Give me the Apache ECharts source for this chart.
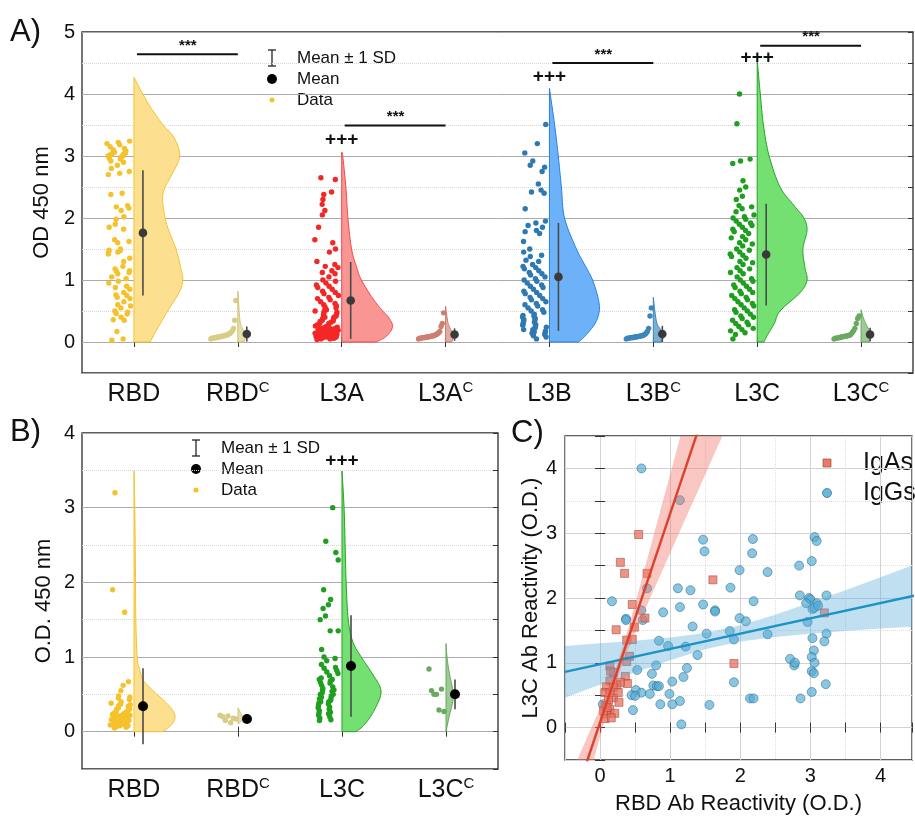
<!DOCTYPE html>
<html>
<head>
<meta charset="utf-8">
<script src="https://cdn.jsdelivr.net/npm/echarts@6.0.0/dist/echarts.min.js"></script>
<style>
  html, body { margin: 0; padding: 0; background: #fff; }
  #chart { width: 915px; height: 816px; }
</style>
</head>
<body>
<div id="chart"></div>
<script>
  var FONT = "'Liberation Sans', Arial, Helvetica, sans-serif";

  /** Panel A data */
  var aCategories = ['RBD', 'RBDc', 'L3A', 'L3Ac', 'L3B', 'L3Bc', 'L3C', 'L3Cc'];
  var aMeans = [1.76, 0.13, 0.67, 0.12, 1.05, 0.13, 1.41, 0.12];
  var aSD = [1.01, 0.12, 0.62, 0.10, 0.87, 0.13, 0.82, 0.11];

  var aRBD = [3.24, 3.22, 3.2, 3.18, 3.15, 3.12, 3.1, 3.08, 3.06, 3.05, 3.04, 3.03, 3.02, 3.0, 3.0, 2.98, 2.96,
    2.95, 2.92, 2.9, 2.85, 2.8, 2.75, 2.72, 2.7, 2.4, 2.38, 2.2, 2.18, 2.16, 2.12, 2.02, 1.98, 1.9, 1.85, 1.82,
    1.65, 1.62, 1.6, 1.5, 1.48, 1.47, 1.45, 1.45, 1.42, 1.35, 1.3, 1.22, 1.18, 1.15, 1.14, 1.12, 1.1, 1.05, 1.02,
    0.98, 0.95, 0.9, 0.88, 0.85, 0.8, 0.76, 0.75, 0.72, 0.7, 0.65, 0.6, 0.58, 0.55, 0.5, 0.48, 0.46, 0.45, 0.4,
    0.36, 0.35, 0.17, 0.05, 0.03];
  var aRBDc = [0.05, 0.06, 0.06, 0.07, 0.07, 0.07, 0.08, 0.08, 0.08, 0.09, 0.09, 0.1, 0.1, 0.11, 0.11, 0.12,
    0.13, 0.14, 0.16, 0.18, 0.22, 0.35, 0.67];
  var aL3A = [2.65, 2.62, 2.42, 2.38, 2.3, 2.22, 2.12, 2.05, 1.85, 1.65, 1.6, 1.5, 1.45, 1.3, 1.25, 1.22, 1.2,
    1.15, 1.12, 1.1, 1.05, 1.0, 0.98, 0.95, 0.92, 0.9, 0.88, 0.85, 0.82, 0.8, 0.78, 0.75, 0.72, 0.7, 0.68, 0.65,
    0.62, 0.6, 0.58, 0.56, 0.55, 0.52, 0.5, 0.5, 0.48, 0.47, 0.45, 0.44, 0.42, 0.4, 0.4, 0.38, 0.37, 0.35, 0.34,
    0.33, 0.32, 0.3, 0.3, 0.28, 0.27, 0.26, 0.25, 0.24, 0.23, 0.22, 0.22, 0.21, 0.2, 0.2, 0.19, 0.18, 0.18, 0.17,
    0.16, 0.15, 0.15, 0.14, 0.13, 0.12, 0.12, 0.11, 0.1, 0.1, 0.09, 0.08, 0.08, 0.07, 0.06, 0.05, 0.05, 0.04];
  var aL3Ac = [0.05, 0.06, 0.06, 0.07, 0.07, 0.07, 0.08, 0.08, 0.08, 0.09, 0.09, 0.1, 0.1, 0.11, 0.12, 0.13,
    0.15, 0.17, 0.25, 0.3, 0.47];
  var aL3B = [3.51, 3.2, 3.05, 2.92, 2.85, 2.82, 2.75, 2.55, 2.45, 2.42, 2.4, 2.15, 1.95, 1.92, 1.88, 1.85, 1.8,
    1.78, 1.75, 1.62, 1.5, 1.45, 1.4, 1.38, 1.32, 1.3, 1.25, 1.22, 1.2, 1.18, 1.15, 1.12, 1.1, 1.08, 1.05, 1.02,
    1.0, 0.98, 0.95, 0.92, 0.9, 0.88, 0.85, 0.82, 0.8, 0.78, 0.75, 0.72, 0.7, 0.68, 0.65, 0.62, 0.6, 0.58, 0.55,
    0.52, 0.5, 0.48, 0.45, 0.43, 0.42, 0.4, 0.38, 0.36, 0.35, 0.33, 0.32, 0.3, 0.28, 0.27, 0.25, 0.24, 0.22, 0.2,
    0.2, 0.18, 0.16, 0.15, 0.14, 0.12, 0.1, 0.08, 0.05];
  var aL3Bc = [0.05, 0.06, 0.06, 0.07, 0.07, 0.07, 0.08, 0.08, 0.08, 0.09, 0.09, 0.1, 0.1, 0.11, 0.12, 0.14,
    0.17, 0.22, 0.42, 0.55];
  var aL3C = [4.0, 3.52, 2.95, 2.92, 2.88, 2.6, 2.5, 2.45, 2.35, 2.3, 2.2, 2.18, 2.15, 2.1, 2.05, 2.02, 2.0, 1.98,
    1.95, 1.92, 1.9, 1.88, 1.85, 1.82, 1.8, 1.78, 1.75, 1.7, 1.68, 1.65, 1.6, 1.58, 1.55, 1.5, 1.48, 1.45, 1.42,
    1.4, 1.38, 1.35, 1.3, 1.28, 1.25, 1.2, 1.18, 1.15, 1.12, 1.1, 1.05, 1.02, 1.0, 0.98, 0.95, 0.92, 0.9, 0.88,
    0.85, 0.82, 0.8, 0.78, 0.75, 0.72, 0.7, 0.68, 0.65, 0.62, 0.6, 0.58, 0.55, 0.52, 0.5, 0.48, 0.45, 0.42, 0.4,
    0.38, 0.35, 0.32, 0.3, 0.28, 0.25, 0.22, 0.2, 0.18, 0.15, 0.12, 0.05];
  var aL3Cc = [0.05, 0.06, 0.06, 0.07, 0.07, 0.08, 0.08, 0.09, 0.09, 0.1, 0.1, 0.11, 0.12, 0.15, 0.18, 0.22,
    0.3, 0.38, 0.42];

  // violin outlines: [OD value, relative density]
  var aViolinRBD = [[0, 0.31], [0.2, 0.44], [0.5, 0.65], [0.8, 0.87], [1.0, 0.94], [1.2, 0.9], [1.5, 0.81],
    [1.8, 0.67], [2.0, 0.6], [2.3, 0.55], [2.5, 0.6], [2.7, 0.73], [3.0, 0.88], [3.3, 0.77], [3.5, 0.56],
    [3.8, 0.31], [4.0, 0.17], [4.27, 0]];
  var aViolinRBDc = [[0, 0.12], [0.1, 0.15], [0.2, 0.1], [0.3, 0.05], [0.5, 0.025], [0.7, 0.012], [0.82, 0]];
  var aViolinL3A = [[0, 0.67], [0.1, 0.87], [0.25, 0.98], [0.4, 0.9], [0.5, 0.79], [0.7, 0.6], [1.0, 0.38],
    [1.2, 0.29], [1.5, 0.19], [2.0, 0.12], [2.5, 0.08], [3.0, 0.02], [3.06, 0]];
  var aViolinL3Ac = [[0, 0.12], [0.1, 0.15], [0.2, 0.1], [0.3, 0.05], [0.45, 0.02], [0.58, 0]];
  var aViolinL3B = [[0, 0.56], [0.1, 0.69], [0.3, 0.88], [0.5, 0.96], [0.7, 0.94], [1.0, 0.83], [1.2, 0.71],
    [1.5, 0.52], [2.0, 0.29], [2.5, 0.23], [3.0, 0.17], [3.5, 0.1], [4.09, 0]];
  var aViolinL3Bc = [[0, 0.15], [0.1, 0.2], [0.2, 0.14], [0.3, 0.07], [0.5, 0.03], [0.72, 0]];
  var aViolinL3C = [[0, 0.13], [0.1, 0.19], [0.3, 0.33], [0.5, 0.44], [0.8, 0.83], [1.0, 0.96], [1.2, 0.92],
    [1.5, 0.88], [1.8, 0.96], [2.0, 0.9], [2.2, 0.71], [2.5, 0.44], [3.0, 0.23], [3.5, 0.12], [4.0, 0.06],
    [4.55, 0]];
  var aViolinL3Cc = [[0, 0.15], [0.1, 0.2], [0.2, 0.15], [0.3, 0.09], [0.4, 0.04], [0.52, 0]];

  var aSigBars = [[0, 1, 4.64], [2, 3, 3.49], [4, 5, 4.5], [6, 7, 4.78]];
  var aPlus = [[2, 3.26], [4, 4.27], [6, 4.59]];

  /** Panel B data */
  var bCategories = ['RBD', 'RBDc', 'L3C', 'L3Cc'];
  var bMeans = [0.34, 0.17, 0.88, 0.50];
  var bSD = [0.51, 0.03, 0.68, 0.20];
  var bRBD = [3.2, 1.9, 1.6, 0.67, 0.62, 0.55, 0.48, 0.46, 0.45, 0.43, 0.4, 0.38, 0.37, 0.36, 0.35, 0.34, 0.32,
    0.3, 0.3, 0.28, 0.27, 0.26, 0.25, 0.24, 0.23, 0.22, 0.22, 0.21, 0.2, 0.2, 0.19, 0.18, 0.17, 0.16, 0.15, 0.15,
    0.14, 0.13, 0.12, 0.11, 0.1, 0.1, 0.09, 0.08, 0.08, 0.07, 0.06, 0.05];
  var bRBDc = [0.22, 0.2, 0.15, 0.21, 0.12, 0.18, 0.17];
  var bL3C = [3.0, 2.55, 2.4, 2.3, 1.9, 1.77, 1.7, 1.65, 1.55, 1.5, 1.35, 1.35, 1.1, 1.0, 0.98, 0.95, 0.9, 0.86,
    0.85, 0.82, 0.8, 0.78, 0.75, 0.72, 0.7, 0.7, 0.68, 0.66, 0.65, 0.62, 0.6, 0.58, 0.56, 0.55, 0.54, 0.52, 0.5,
    0.5, 0.48, 0.46, 0.45, 0.44, 0.42, 0.4, 0.4, 0.38, 0.37, 0.35, 0.33, 0.32, 0.3, 0.28, 0.26, 0.25, 0.24, 0.22,
    0.2, 0.18, 0.16, 0.15];
  var bL3Cc = [0.84, 0.55, 0.5, 0.5, 0.29, 0.57, 0.27];

  var bViolinRBD = [[0, 0.56], [0.1, 0.73], [0.2, 0.79], [0.3, 0.73], [0.4, 0.6], [0.5, 0.44], [0.6, 0.29],
    [0.7, 0.17], [0.85, 0.1], [1.0, 0.06], [1.5, 0.035], [2.0, 0.03], [2.5, 0.023], [3.0, 0.015], [3.49, 0]];
  var bViolinRBDc = [[0.1, 0], [0.15, 0.07], [0.2, 0.09], [0.25, 0.05], [0.32, 0]];
  var bViolinL3C = [[0, 0.27], [0.1, 0.44], [0.3, 0.63], [0.55, 0.75], [0.8, 0.56], [1.0, 0.37], [1.2, 0.21],
    [1.5, 0.12], [2.0, 0.08], [2.5, 0.06], [3.0, 0.04], [3.49, 0]];
  var bViolinL3Cc = [[0, 0], [0.2, 0.06], [0.4, 0.13], [0.5, 0.14], [0.6, 0.12], [0.8, 0.06], [1.0, 0.02],
    [1.18, 0]];

  var bPlus = [[2, 3.63]];

  /** Panel C data: [RBD O.D., L3C O.D.] */
  var igaPoints = [[0.55, 2.98], [0.29, 2.55], [0.35, 2.38], [0.67, 2.38], [1.61, 2.28], [0.46, 1.9],
    [0.64, 1.69], [0.49, 1.55], [0.23, 1.51], [0.46, 1.36], [0.38, 1.35], [0.42, 1.1], [0.38, 1.02],
    [1.91, 0.99], [3.2, 1.77], [0.14, 0.95], [0.19, 0.85], [0.36, 0.79], [0.39, 0.68], [0.29, 0.7],
    [0.24, 0.66], [0.14, 0.72], [0.09, 0.63], [0.07, 0.54], [0.14, 0.54], [0.19, 0.46], [0.27, 0.39],
    [0.12, 0.42], [0.08, 0.34], [0.14, 0.28], [0.21, 0.22], [0.09, 0.21], [0.07, 0.14], [0.16, 0.15],
    [0.05, 0.26], [0.1, 0.31], [0.19, 0.62], [0.26, 0.54], [0.15, 0.87]];
  var iggPoints = [[0.59, 4.0], [1.14, 3.51], [1.47, 2.9], [1.49, 2.72], [2.18, 2.91], [2.17, 2.69],
    [1.99, 2.43], [2.39, 2.4], [1.86, 2.16], [1.11, 2.15], [1.29, 2.12], [0.17, 1.95], [1.14, 1.86],
    [1.47, 1.9], [2.19, 1.95], [1.64, 1.81], [1.64, 1.79], [0.9, 1.78], [0.59, 1.81], [0.37, 1.68],
    [0.37, 1.66], [1.99, 1.69], [2.08, 1.64], [1.32, 1.56], [1.52, 1.45], [1.85, 1.49], [1.91, 1.36],
    [2.39, 1.44], [0.84, 1.34], [0.97, 1.26], [1.22, 1.25], [1.39, 1.12], [0.8, 0.96], [0.53, 0.89],
    [0.74, 0.83], [1.24, 0.92], [1.19, 0.78], [1.03, 0.71], [0.76, 0.65], [0.81, 0.64], [0.84, 0.64],
    [0.51, 0.58], [0.59, 0.54], [0.71, 0.52], [0.45, 0.5], [0.5, 0.49], [0.99, 0.52], [1.14, 0.41],
    [0.86, 0.36], [1.03, 0.36], [1.56, 0.35], [0.47, 0.27], [1.16, 0.05], [0.04, 0.36], [1.91, 0.7],
    [2.14, 0.45], [2.19, 0.45], [0.61, 1.66], [0.67, 2.15], [2.71, 1.06], [2.77, 0.96], [2.78, 1.0],
    [2.86, 0.45], [2.84, 2.5], [3.02, 2.57], [3.06, 2.94], [3.09, 2.88], [2.85, 2.04], [2.98, 2.0],
    [3.0, 1.98], [2.94, 1.92], [3.03, 1.83], [3.09, 1.92], [3.06, 1.85], [3.11, 1.88], [3.23, 2.04],
    [2.96, 1.63], [3.03, 1.38], [3.05, 1.19], [3.02, 1.09], [3.06, 1.0], [3.02, 0.87], [3.05, 0.84],
    [3.02, 0.55], [3.23, 1.45], [3.2, 1.33], [3.22, 0.67]];

  var igaFit = [[-0.4, -1.21], [1.8, 5.88]];
  var iggFit = [[-0.5, 0.86], [4.5, 2.04]];
  var igaBandX = [-0.4, -0.2, 0, 0.2, 0.4, 0.6, 0.8, 1.0, 1.2, 1.4, 1.6, 1.8];
  var igaBandHi = [-0.68, -0.19, 0.3, 0.83, 1.52, 2.31, 3.11, 3.91, 4.71, 5.51, 6.32, 7.12];
  var igaBandLo = [-1.74, -0.94, -0.14, 0.62, 1.21, 1.72, 2.21, 2.69, 3.18, 3.66, 4.15, 4.63];
  var iggBandX = [-0.5, 0, 0.5, 1, 1.5, 2, 2.5, 3, 3.5, 4, 4.5];
  var iggBandHi = [1.26, 1.3, 1.34, 1.39, 1.46, 1.58, 1.74, 1.93, 2.12, 2.32, 2.52];
  var iggBandLo = [0.46, 0.66, 0.85, 1.04, 1.21, 1.33, 1.4, 1.45, 1.49, 1.53, 1.56];

  /** Styles */
  var palette = {
    RBD: { pt: '#F6C22C', fill: '#FCE08F', line: '#F3C230' },
    RBDc: { pt: '#D8CD86', fill: '#E6DEA6', line: '#CFC37A' },
    L3A: { pt: '#F42626', fill: '#F99694', line: '#F04B4B' },
    L3Ac: { pt: '#CE7F71', fill: '#E3ABA2', line: '#C97A6C' },
    L3B: { pt: '#2F79B2', fill: '#6DB1F8', line: '#2A7FE6' },
    L3Bc: { pt: '#3C86BD', fill: '#7BAFD4', line: '#3A84BC' },
    L3C: { pt: '#1F9F1F', fill: '#73E071', line: '#27A327' },
    L3Cc: { pt: '#69A960', fill: '#9DCB95', line: '#67A85E' }
  };

  function fmtCat(v) {
    return v.charAt(v.length - 1) === 'c' ? v.slice(0, -1) + '{sup|C}' : v;
  }
  function fmtInt(v) {
    return Math.abs(v - Math.round(v)) < 1e-6 ? String(Math.round(v)) : '';
  }

  // Catmull-Rom through pixel points, for smooth violin edges
  function smooth(pts, steps) {
    var out = [];
    for (var i = 0; i < pts.length - 1; i++) {
      var p0 = pts[Math.max(i - 1, 0)], p1 = pts[i], p2 = pts[i + 1], p3 = pts[Math.min(i + 2, pts.length - 1)];
      for (var s = 0; s < steps; s++) {
        var t = s / steps, t2 = t * t, t3 = t2 * t;
        var q = [0, 1].map(function (k) {
          return 0.5 * (2 * p1[k] + (-p0[k] + p2[k]) * t + (2 * p0[k] - 5 * p1[k] + 4 * p2[k] - p3[k]) * t2 +
            (-p0[k] + 3 * p1[k] - 3 * p2[k] + p3[k]) * t3);
        });
        out.push(q);
      }
    }
    out.push(pts[pts.length - 1]);
    return out;
  }

  function violinSeries(xi, yi, cat, profile, col) {
    return {
      type: 'custom', xAxisIndex: xi, yAxisIndex: yi, data: [[cat, profile[0][0]]], z: 2,
      renderItem: function (params, api) {
        var half = api.size([1, 0])[0] / 2;
        var base = api.coord([cat, profile[0][0]]);
        var edge = profile.map(function (p) {
          return [base[0] + p[1] * half, api.coord([cat, p[0]])[1]];
        });
        var pts = smooth(edge, 8).map(function (p) { return [Math.max(p[0], base[0]), p[1]]; });
        pts.unshift([base[0], base[1]]);
        return {
          type: 'polygon', shape: { points: pts },
          style: { fill: col.fill, stroke: col.line, lineWidth: 1 }
        };
      }
    };
  }

  // data dots sit left of the violin; horizontal spread is only layout
  function pointSeries(xi, yi, cat, values, col, mode, spread) {
    return {
      type: 'custom', xAxisIndex: xi, yAxisIndex: yi, z: 3,
      data: values.map(function (v, i) { return [cat, v, i, values.length]; }),
      renderItem: function (params, api) {
        var v = api.value(1);
        var c = api.coord([api.value(0), v]);
        var i = api.value(2), n = api.value(3);
        var f = (i * 0.6180339887 + v * 7.31 + 0.37) % 1;
        var off = mode === 'ramp'
          ? -(spread - (spread - 2) * i / Math.max(n - 1, 1))
          : -(3 + (spread - 3) * f);
        return { type: 'circle', shape: { cx: c[0] + off, cy: c[1], r: 2.7 }, style: { fill: col.pt } };
      }
    };
  }

  function meanSeries(xi, yi, means, sds, dot, r) {
    return {
      type: 'custom', xAxisIndex: xi, yAxisIndex: yi, z: 4,
      data: means.map(function (m, i) { return [i, m, sds[i]]; }),
      renderItem: function (params, api) {
        var cat = api.value(0), m = api.value(1), sd = api.value(2);
        var p = api.coord([cat, m]), hi = api.coord([cat, m + sd]), lo = api.coord([cat, m - sd]);
        var x = p[0] + 9;
        return {
          type: 'group', children: [
            { type: 'line', shape: { x1: x, y1: hi[1], x2: x, y2: lo[1] }, style: { stroke: '#4a4a4a', lineWidth: 1.6 } },
            { type: 'circle', shape: { cx: x, cy: p[1], r: r }, style: { fill: dot } }
          ]
        };
      }
    };
  }

  function sigSeries(bars) {
    return {
      type: 'custom', xAxisIndex: 0, yAxisIndex: 0, z: 5, data: bars,
      renderItem: function (params, api) {
        var a = api.coord([api.value(0), api.value(2)]), b = api.coord([api.value(1), api.value(2)]);
        return {
          type: 'group', children: [
            { type: 'line', shape: { x1: a[0] + 3, y1: a[1], x2: b[0], y2: b[1] }, style: { stroke: '#111', lineWidth: 2 } },
            { type: 'text', x: (a[0] + b[0]) / 2 + 2, y: a[1] - 1,
              style: { text: '***', fill: '#111', fontFamily: FONT, fontSize: 15, fontWeight: 'bold', align: 'center', verticalAlign: 'bottom' } }
          ]
        };
      }
    };
  }

  function plusSeries(xi, yi, marks) {
    return {
      type: 'custom', xAxisIndex: xi, yAxisIndex: yi, z: 5, data: marks,
      renderItem: function (params, api) {
        var p = api.coord([api.value(0), api.value(1)]);
        return { type: 'text', x: p[0], y: p[1],
          style: { text: '+++', fill: '#111', fontFamily: FONT, fontSize: 19, fontWeight: 'bold', align: 'center', verticalAlign: 'middle' } };
      }
    };
  }

  function bandSeries(xs, hi, lo, color) {
    return {
      type: 'custom', xAxisIndex: 4, yAxisIndex: 4, clip: true, z: 3, data: [[xs[0], hi[0]]],
      renderItem: function (params, api) {
        var pts = [];
        xs.forEach(function (x, i) { pts.push(api.coord([x, hi[i]])); });
        for (var i = xs.length - 1; i >= 0; i--) pts.push(api.coord([xs[i], lo[i]]));
        return { type: 'polygon', shape: { points: pts }, style: { fill: color } };
      }
    };
  }

  /** Axes */
  var catLabel = {
    interval: 0, fontFamily: FONT, fontSize: 25, color: '#111', margin: 7, lineHeight: 28, formatter: fmtCat,
    rich: { sup: { fontFamily: FONT, fontSize: 15, color: '#111', lineHeight: 15, verticalAlign: 'top' } }
  };
  function catAxis(grid, data, pos, label) {
    return {
      type: 'category', gridIndex: grid, data: data, position: pos, boundaryGap: true,
      axisLine: { show: false },
      axisTick: { show: true, inside: true, alignWithLabel: true, interval: 0, length: 5, lineStyle: { color: '#333' } },
      axisLabel: label ? catLabel : { show: false },
      splitLine: { show: false }
    };
  }
  function valAxis(grid, pos, min, max, opt) {
    return {
      type: 'value', gridIndex: grid, position: pos, min: min, max: max,
      name: opt.name || '', nameLocation: 'middle', nameGap: opt.nameGap || 0,
      nameTextStyle: { fontFamily: FONT, fontSize: 22, color: '#111' },
      axisLine: { show: false },
      axisTick: { show: !!opt.ticks, inside: true, length: 5, lineStyle: { color: '#333' } },
      minorTick: { show: !!opt.ticks, splitNumber: 2, length: 5, lineStyle: { color: '#333' } },
      axisLabel: opt.labels ? { fontFamily: FONT, fontSize: 20, color: '#111', margin: opt.margin, formatter: fmtInt } : { show: false },
      splitLine: { show: !!opt.major, lineStyle: { color: opt.major, width: 1 } },
      minorSplitLine: { show: !!opt.minor, lineStyle: { color: opt.minor, width: 1, type: 'dotted' } }
    };
  }

  var gridStyle = { show: true, borderColor: '#2b2b2b', borderWidth: 1.3, backgroundColor: 'transparent' };

  /** Series */
  var series = [];
  var aGroups = [
    [0, aRBD, aViolinRBD, palette.RBD, 'jitter'],
    [1, aRBDc, aViolinRBDc, palette.RBDc, 'ramp'],
    [2, aL3A, aViolinL3A, palette.L3A, 'jitter'],
    [3, aL3Ac, aViolinL3Ac, palette.L3Ac, 'ramp'],
    [4, aL3B, aViolinL3B, palette.L3B, 'jitter'],
    [5, aL3Bc, aViolinL3Bc, palette.L3Bc, 'ramp'],
    [6, aL3C, aViolinL3C, palette.L3C, 'jitter'],
    [7, aL3Cc, aViolinL3Cc, palette.L3Cc, 'ramp']
  ];
  aGroups.forEach(function (g) {
    series.push(violinSeries(0, 0, g[0], g[2], g[3]));
    series.push(pointSeries(0, 0, g[0], g[1], g[3], g[4], 27));
  });
  series.push(meanSeries(0, 0, aMeans, aSD, '#3a3a3a', 4.3));
  series.push(sigSeries(aSigBars));
  series.push(plusSeries(0, 0, aPlus));

  var bGroups = [
    [0, bRBD, bViolinRBD, palette.RBD, 'jitter', 24],
    [1, bRBDc, bViolinRBDc, palette.RBDc, 'ramp', 18],
    [2, bL3C, bViolinL3C, palette.L3C, 'jitter', 24],
    [3, bL3Cc, bViolinL3Cc, palette.L3Cc, 'ramp', 17]
  ];
  bGroups.forEach(function (g) {
    series.push(violinSeries(2, 2, g[0], g[2], g[3]));
    series.push(pointSeries(2, 2, g[0], g[1], g[3], g[4], g[5]));
  });
  series.push(meanSeries(2, 2, bMeans, bSD, '#000', 5));
  series.push(plusSeries(2, 2, bPlus));

  series.push({
    type: 'scatter', xAxisIndex: 4, yAxisIndex: 4, data: iggPoints, symbol: 'circle', symbolSize: 9, z: 2,
    itemStyle: { color: 'rgba(82,172,212,0.85)', borderColor: '#2f6a86', borderWidth: 0.7 }
  });
  series.push({
    type: 'scatter', xAxisIndex: 4, yAxisIndex: 4, data: igaPoints, symbol: 'rect', symbolSize: 8, z: 2,
    itemStyle: { color: 'rgba(232,110,92,0.92)', borderColor: '#a3483a', borderWidth: 0.7 }
  });
  series.push(bandSeries(iggBandX, iggBandHi, iggBandLo, 'rgba(90,170,215,0.38)'));
  series.push(bandSeries(igaBandX, igaBandHi, igaBandLo, 'rgba(242,120,108,0.42)'));
  series.push({
    type: 'line', xAxisIndex: 4, yAxisIndex: 4, data: iggFit, showSymbol: false, clip: true, z: 4,
    lineStyle: { color: '#1B93C6', width: 2.4 }
  });
  series.push({
    type: 'line', xAxisIndex: 4, yAxisIndex: 4, data: igaFit, showSymbol: false, clip: true, z: 4,
    lineStyle: { color: '#D9432C', width: 2.4 }
  });

  /** Legends and panel letters */
  function legendBox(x, y) {
    return [
      { type: 'line', shape: { x1: x, y1: y - 8, x2: x, y2: y + 8 }, style: { stroke: '#222', lineWidth: 1.3 } },
      { type: 'line', shape: { x1: x - 4, y1: y - 8, x2: x + 4, y2: y - 8 }, style: { stroke: '#222', lineWidth: 1.3 } },
      { type: 'line', shape: { x1: x - 4, y1: y + 8, x2: x + 4, y2: y + 8 }, style: { stroke: '#222', lineWidth: 1.3 } },
      { type: 'circle', shape: { cx: x, cy: y + 21, r: 5 }, style: { fill: '#000' } },
      { type: 'circle', shape: { cx: x, cy: y + 42, r: 2.5 }, style: { fill: palette.RBD.pt } },
      { type: 'text', x: x + 25, y: y, style: { text: 'Mean ± 1 SD', fontFamily: FONT, fontSize: 17, fill: '#111', verticalAlign: 'middle' } },
      { type: 'text', x: x + 25, y: y + 21, style: { text: 'Mean', fontFamily: FONT, fontSize: 17, fill: '#111', verticalAlign: 'middle' } },
      { type: 'text', x: x + 25, y: y + 42, style: { text: 'Data', fontFamily: FONT, fontSize: 17, fill: '#111', verticalAlign: 'middle' } }
    ];
  }
  function letter(t, x, y) {
    return { type: 'text', x: x, y: y, style: { text: t, fontFamily: FONT, fontSize: 31, fill: '#111', verticalAlign: 'middle' } };
  }
  var graphics = [letter('A)', 10, 32), letter('B)', 10, 432), letter('C)', 511, 433)]
    .concat(legendBox(272, 58))
    .concat(legendBox(196, 448))
    .concat([
      { type: 'rect', shape: { x: 823, y: 459, width: 8, height: 8 }, style: { fill: 'rgba(232,110,92,0.92)', stroke: '#a3483a', lineWidth: 0.7 } },
      { type: 'circle', shape: { cx: 827, cy: 493, r: 4.5 }, style: { fill: 'rgba(82,172,212,0.85)', stroke: '#2f6a86', lineWidth: 0.7 } },
      { type: 'text', x: 863, y: 463, style: { text: 'IgAs', fontFamily: FONT, fontSize: 25, fill: '#111', verticalAlign: 'middle' } },
      { type: 'text', x: 863, y: 493, style: { text: 'IgGs', fontFamily: FONT, fontSize: 25, fill: '#111', verticalAlign: 'middle' } }
    ]);

  var option = {
    animation: false,
    backgroundColor: '#fff',
    grid: [
      Object.assign({ left: 82, top: 32, width: 831, height: 341 }, gridStyle),
      Object.assign({ left: 82, top: 433, width: 416, height: 336 }, gridStyle),
      Object.assign({ left: 565, top: 436, width: 350, height: 325 }, gridStyle)
    ],
    xAxis: [
      catAxis(0, aCategories, 'bottom', true),
      catAxis(0, aCategories, 'top', false),
      catAxis(1, bCategories, 'bottom', true),
      catAxis(1, bCategories, 'top', false),
      valAxis(2, 'bottom', -0.5, 4.45, { labels: true, margin: 6, ticks: true, major: '#d2d2d2', minor: '#dedede',
        name: 'RBD Ab Reactivity (O.D.)', nameGap: 33 }),
      valAxis(2, 'top', -0.5, 4.45, { ticks: true })
    ],
    yAxis: [
      valAxis(0, 'left', -0.5, 5, { labels: true, margin: 7, major: '#ababab', minor: '#d6d6d6', name: 'OD 450 nm', nameGap: 27 }),
      valAxis(0, 'right', -0.5, 5, { ticks: true }),
      valAxis(1, 'left', -0.5, 4, { labels: true, margin: 7, major: '#ababab', minor: '#d6d6d6', name: 'O.D. 450 nm', nameGap: 27 }),
      valAxis(1, 'right', -0.5, 4, { ticks: true }),
      valAxis(2, 'left', -0.5, 4.5, { labels: true, margin: 8, ticks: true, major: '#d2d2d2', minor: '#dedede',
        name: 'L3C Ab Reactivity (O.D.)', nameGap: 22 }),
      valAxis(2, 'right', -0.5, 4.5, { ticks: true })
    ],
    graphic: { elements: graphics },
    series: series
  };

  echarts.init(document.getElementById('chart')).setOption(option);
</script>
</body>
</html>
